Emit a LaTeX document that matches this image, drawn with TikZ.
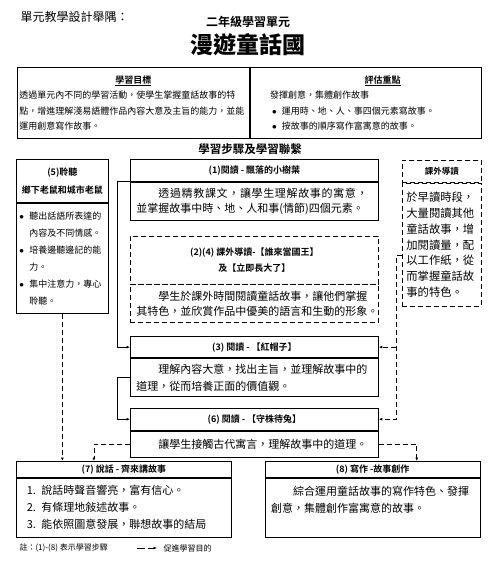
\documentclass[tikz,border=0pt]{standalone}
\usepackage{fontspec}
\setmainfont{Noto Sans CJK TC}[BoldFont={Noto Sans CJK TC Bold}]
\newfontfamily\heavyfont{Noto Sans CJK TC Black}
\newfontfamily\spacedfont{Noto Sans CJK TC}[LetterSpace=6]
\usetikzlibrary{positioning,arrows.meta}
\newcommand{\itembul}{\makebox[1.1em][l]{$\bullet$}}

\begin{document}
\begin{tikzpicture}[
    x=1pt, y={(0pt,-1pt)},
    head/.style={
        rectangle, draw=black, line width=0.8pt,
        inner sep=2pt, align=center,
        font=\bfseries\fontsize{9}{16}\selectfont
    },
    body/.style={
        rectangle, draw=black, line width=0.8pt,
        inner xsep=6pt, inner ysep=2pt, align=left,
        font=\fontsize{11}{17}\selectfont
    },
    cell/.style={
        rectangle, draw=black, line width=0.8pt,
        inner xsep=2pt, inner ysep=2pt, align=left,
        anchor=north west, minimum height=71pt,
        font=\fontsize{9}{15.5}\selectfont
    },
    dashbox/.style={dash pattern=on 5pt off 3pt},
    solidlink/.style={-{Latex[length=3.5pt,width=3pt]}, line width=0.7pt},
    dashlink/.style={solidlink, dash pattern=on 5pt off 3pt}
]
\useasboundingbox (0,0) rectangle (500,567);
\def\stepw{248pt}

% Heading
\node[anchor=west, font=\fontsize{12}{12}\selectfont] (unit) at (17,17) {單元教學設計舉隅：};
\node[font=\bfseries\fontsize{12}{12}\selectfont] (grade) at (248,22) {二年級學習單元};
\node[font=\heavyfont\fontsize{23}{23}\selectfont] (title) at (248,45) {漫遊童話國};

% Goals table
\node[cell, text width=228pt] (goal) at (17,67) {
    \makebox[228pt][c]{\bfseries\underline{學習目標}}\\
    透過單元內不同的學習活動，使學生掌握童話故事的特\\
    點，增進理解淺易語體作品內容大意及主旨的能力，並能\\
    運用創意寫作故事。
};
\node[cell, text width=227pt, right=0pt of goal.north east, anchor=north west] (assess) {
    \makebox[227pt][c]{\hspace{34pt}\bfseries\underline{評估重點}}\\
    \hspace*{2em}發揮創意，集體創作故事\\
    \hspace*{2.2em}\itembul 運用時、地、人、事四個元素寫故事。\\
    \hspace*{2.2em}\itembul 按故事的順序寫作富寓意的故事。
};

\node[font=\bfseries\fontsize{11.5}{12}\selectfont] (steps) at (250,149) {學習步驟及學習聯繫};

% Main column of steps
\node[head, minimum width=\stepw, minimum height=22pt, anchor=north west] (s1h) at (130,159) {(1)閱讀 - 飄落的小樹葉};
\node[body, text width=236pt, minimum height=38pt, below=0pt of s1h, font=\fontsize{11}{15}\selectfont] (s1) {
    \hspace*{2em}{\spacedfont 透過精教課文，讓學生理解故事的寓意，}\\
    並掌握故事中時、地、人和事(情節)四個元素。
};

\node[head, dashbox, minimum width=\stepw, minimum height=48pt, below=15pt of s1] (s2h) {
    (2)(4) 課外導讀-【誰來當國王】\\及【立即長大了】
};
\node[body, dashbox, text width=236pt, minimum height=38pt, below=0pt of s2h, font=\fontsize{11}{15}\selectfont] (s2) {
    \hspace*{2em}學生於課外時間閱讀童話故事，讓他們掌握\\
    其特色，並欣賞作品中優美的語言和生動的形象。
};

\node[head, minimum width=\stepw, minimum height=21pt, below=13pt of s2] (s3h) {(3) 閱讀 - 【紅帽子】};
\node[body, text width=236pt, minimum height=38pt, below=0pt of s3h] (s3) {
    \hspace*{2em}理解內容大意，找出主旨，並理解故事中的\\
    道理，從而培養正面的價值觀。
};

\node[head, minimum width=\stepw, minimum height=22pt, below=11pt of s3] (s6h) {(6) 閱讀 - 【守株待兔】};
\node[body, text width=236pt, minimum height=26pt, below=0pt of s6h] (s6) {
    \hspace*{2em}讓學生接觸古代寓言，理解故事中的道理。
};

% Side boxes
\node[head, minimum width=92pt, minimum height=43pt, anchor=north west, font=\bfseries\fontsize{9}{18}\selectfont] (s5h) at (16,159) {
    (5)聆聽\\鄉下老鼠和城市老鼠
};
\node[body, text width=86pt, inner xsep=3pt, minimum height=110pt, below=0pt of s5h, font=\fontsize{9}{17}\selectfont] (s5) {
    \itembul 聽出話語所表達的\\
    \hspace*{1.1em}內容及不同情感。\\
    \itembul 培養邊聽邊記的能\\
    \hspace*{1.1em}力。\\
    \itembul 集中注意力，專心\\
    \hspace*{1.1em}聆聽。
};

\node[head, dashbox, minimum width=79pt, minimum height=22pt, anchor=north west, font=\bfseries\fontsize{8.5}{10}\selectfont] (exh) at (402,160) {課外導讀};
\node[body, dashbox, text width=71pt, inner xsep=4pt, minimum height=123pt, below=0pt of exh, font=\fontsize{11.3}{15.7}\selectfont] (ex) {
    於早讀時段，\\大量閱讀其他\\童話故事，增\\加閱讀量，配\\以工作紙，從\\而掌握童話故\\事的特色。
};

% Bottom boxes
\node[head, minimum width=215pt, minimum height=16pt, anchor=north west] (s7h) at (16,461) {(7) 說話 - 齊來講故事};
\node[body, text width=203pt, minimum height=59pt, below=0pt of s7h] (s7) {
    \hspace*{0.4em}1. 說話時聲音響亮，富有信心。\\
    \hspace*{0.4em}2. 有條理地敍述故事。\\
    \hspace*{0.4em}3. 能依照圖意發展，聯想故事的結局
};

\node[head, minimum width=215pt, minimum height=16pt, right=33pt of s7h] (s8h) {(8) 寫作 -故事創作};
\node[body, text width=203pt, minimum height=59pt, below=0pt of s8h] (s8) {
    \hspace*{2em}綜合運用童話故事的寫作特色、發揮\\
    創意，集體創作富寓意的故事。\\
    \mbox{}
};

% Learning steps (solid)
\draw[solidlink] (s1.north west) -- ++(-13,0) |- (s3h.west);
\draw[solidlink] (s3.west) -- ++(-13,0) |- (s6h.west);

% Links (dashed)
\draw[dashlink] ([yshift=-11pt]ex.west) -- ++(-6,0) coordinate (exbend) |- (s6h.east);
\draw[dashlink] (exbend |- s3h.east) -- (s3h.east);
\draw[dashlink] (s5.south) -- (s5.south |- s7h.north);
\draw[dashlink] (s6.west) -| ([xshift=-30pt]s7h.north);
\draw[dashlink] (s6.east) -| ([xshift=44pt]s8h.north);

% Note
\node[anchor=west, font=\fontsize{8}{8}\selectfont] (note) at (16,548) {註：(1)-(8) 表示學習步驟};
\coordinate (lgA) at (137,548);
\coordinate (lgB) at (157,548);
\draw[solidlink, dash pattern=on 8pt off 3pt] (lgA) -- (lgB);
\node[anchor=west, font=\fontsize{8}{8}\selectfont, right=3pt of lgB] (lgtext) {促進學習目的};

\end{tikzpicture}
\end{document}
